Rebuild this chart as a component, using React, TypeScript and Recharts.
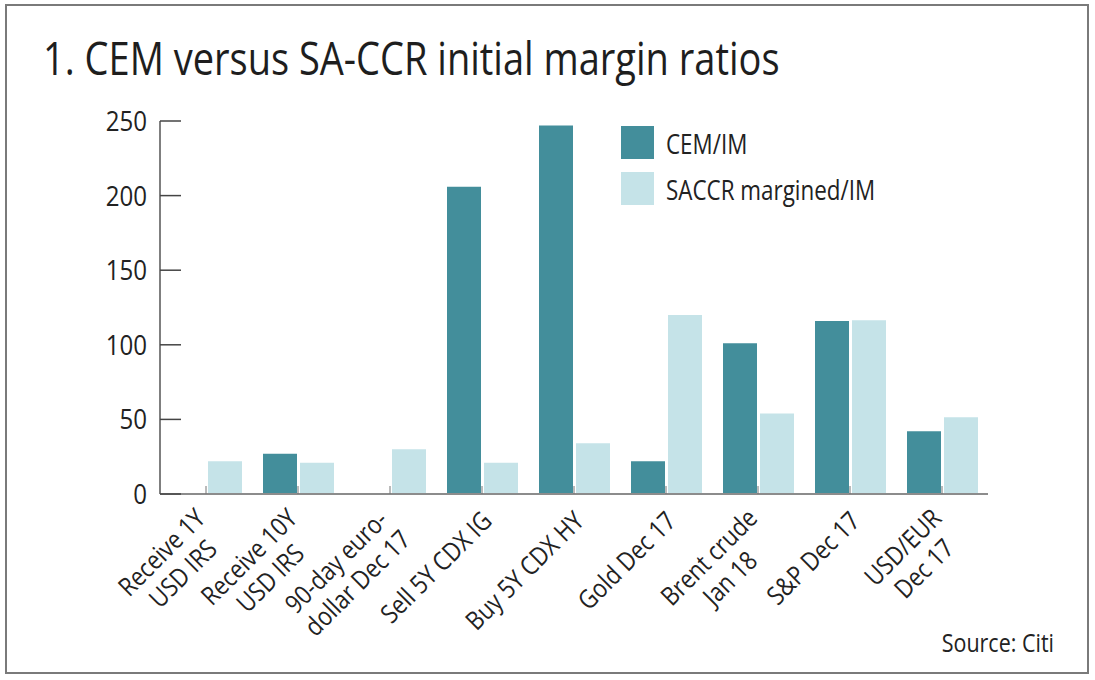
import { BarChart, Bar, XAxis, YAxis, Legend } from 'recharts'

const categories = [
  'Receive 1Y\nUSD IRS',
  'Receive 10Y\nUSD IRS',
  '90-day euro-\ndollar Dec 17',
  'Sell 5Y CDX IG',
  'Buy 5Y CDX HY',
  'Gold Dec 17',
  'Brent crude\nJan 18',
  'S&P Dec 17',
  'USD/EUR\nDec 17',
]
const cemIm = [0, 27, 0, 206, 247, 22, 101, 116, 42]
const saccrIm = [22, 21, 30, 21, 34, 120, 54, 116.5, 51.5]
const yTicks = [0, 50, 100, 150, 200, 250]

const seriesNames = { cem: 'CEM/IM', saccr: 'SACCR margined/IM' }
const DARK = '#438e9b'
const LIGHT = '#c5e3e8'
const FONT = '"Open Sans", "Noto Sans", sans-serif'
const SQ = 0.86 // horizontal squeeze, the source font is narrower than Open Sans

const data = categories.map((c, i) => ({ name: c, cem: cemIm[i], saccr: saccrIm[i] }))

let ctx: CanvasRenderingContext2D | null = null
function textW(s: string, size: number) {
  if (!ctx) ctx = document.createElement('canvas').getContext('2d')
  if (!ctx) return s.length * size * 0.5
  ctx.font = `${size}px "Open Sans"`
  return ctx.measureText(s).width
}

function XTick({ x, y, payload }: any) {
  const lines = String(payload.value).split('\n')
  const size = 26
  const lh = 30
  const n = lines.length
  const wMax = Math.max(...lines.map((l) => textW(l, size)))
  const ex = x + 5
  const ey = y + 22 + 8 * (n - 1)
  return (
    <g>
      <line x1={x} y1={y - 8} x2={x} y2={y} stroke="#777" strokeWidth={1} />
      <g transform={`translate(${ex},${ey}) rotate(-45) scale(${SQ},1)`}>
        {lines.map((l, i) => (
          <text
            key={i}
            x={-wMax / 2}
            y={(i - (n - 1) / 2) * lh}
            dy="0.357em"
            textAnchor="middle"
            fontSize={size}
            fontFamily={FONT}
            fill="#222"
          >
            {l}
          </text>
        ))}
      </g>
    </g>
  )
}

function YTick({ x, y, payload }: any) {
  return (
    <g>
      <line x1={x} y1={y} x2={x + 21} y2={y} stroke="#444" strokeWidth={1.5} />
      <text
        transform={`translate(${x - 13},${y}) scale(${SQ},1)`}
        dy="0.357em"
        textAnchor="end"
        fontSize={28}
        fontFamily={FONT}
        fill="#222"
      >
        {payload.value}
      </text>
    </g>
  )
}

function LegendBox() {
  const rows = [
    { label: seriesNames.cem, color: DARK },
    { label: seriesNames.saccr, color: LIGHT },
  ]
  return (
    <div>
      {rows.map((r) => (
        <div key={r.label} style={{ display: 'flex', alignItems: 'center', height: 33, marginBottom: 13 }}>
          <div style={{ width: 33, height: 33, background: r.color, flex: 'none' }} />
          <div
            style={{
              marginLeft: 12,
              fontFamily: FONT,
              fontSize: 28,
              color: '#222',
              whiteSpace: 'nowrap',
              transform: 'scaleX(0.8)',
              transformOrigin: 'left center',
              lineHeight: 1,
            }}
          >
            {r.label}
          </div>
        </div>
      ))}
    </div>
  )
}

export default function App() {
  return (
    <div style={{ position: 'relative', width: 1095, height: 680, background: '#fff' }}>
      <style>{'body{margin:0}'}</style>
      <BarChart
        width={1095}
        height={680}
        data={data}
        margin={{ top: 121, right: 107, left: 100, bottom: 36 }}
        barSize={34}
        barGap={3}
      >
        <XAxis
          dataKey="name"
          interval={0}
          height={150}
          tickSize={0}
          tickMargin={0}
          tickLine={false}
          axisLine={{ stroke: '#8c8c8c', strokeWidth: 2 }}
          tick={<XTick />}
        />
        <YAxis
          width={60}
          domain={[0, 250]}
          ticks={yTicks}
          tickSize={0}
          tickMargin={0}
          tickLine={false}
          axisLine={{ stroke: '#555', strokeWidth: 1.5 }}
          tick={<YTick />}
        />
        <Legend
          layout="horizontal"
          verticalAlign="middle"
          align="center"
          wrapperStyle={{ left: 621, top: 126, width: 300 }}
          content={() => <LegendBox />}
        />
        <Bar dataKey="cem" name={seriesNames.cem} fill={DARK} isAnimationActive={false} />
        <Bar dataKey="saccr" name={seriesNames.saccr} fill={LIGHT} isAnimationActive={false} />
      </BarChart>
      <svg
        width={1095}
        height={680}
        style={{ position: 'absolute', left: 0, top: 0, pointerEvents: 'none' }}
      >
        <rect x={6} y={5} width={1082} height={668} fill="none" stroke="#7a7a7a" strokeWidth={2} />
        <text transform="translate(43,75) scale(0.845,1)" fontSize={45} fontFamily={FONT} fill="#1e1e1e">
          1. CEM versus SA-CCR initial margin ratios
        </text>
        <text transform={`translate(1054,652) scale(${SQ},1)`} textAnchor="end" fontSize={25} fontFamily={FONT} fill="#222">
          Source: Citi
        </text>
      </svg>
    </div>
  )
}
